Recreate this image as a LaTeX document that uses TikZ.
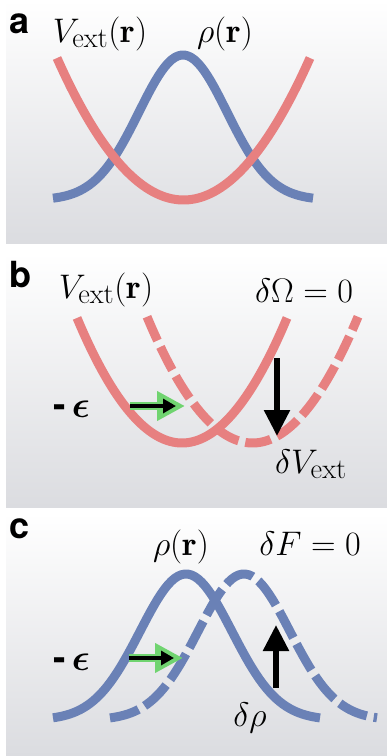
\documentclass[tikz,border=0pt]{standalone}
\usepackage{fontspec}
\usepackage{bm}
\usetikzlibrary{arrows.meta}
\newfontfamily\labfont{TeX Gyre Heros}
\definecolor{redc}{RGB}{231,128,128}
\definecolor{bluec}{RGB}{106,129,182}
\definecolor{greenc}{RGB}{112,212,112}
\definecolor{panelgray}{RGB}{219,220,224}
\tikzset{
  panel/.style={top color=white, bottom color=panelgray, draw=none},
  curve/.style={line width=9pt, line cap=butt},
  dashcurve/.style={curve, dash pattern=on 26pt off 7pt},
  panellabel/.style={anchor=base west, inner sep=0pt, font=\labfont\bfseries\fontsize{36}{40}\selectfont},
  mathlabel/.style={anchor=base, inner sep=0pt, font=\Huge, scale=1.37},
  epslabel/.style={anchor=base west, inner sep=0pt, font=\Huge, scale=1.5},
  bigarrow/.style={line width=5.5pt, -{Triangle[width=25pt,length=26pt]}},
  greenarrow/.style={greenc, line width=8pt, -{Triangle[width=28pt,length=28pt]}},
  innerarrow/.style={black, line width=3.5pt, -{Triangle[width=14pt,length=13pt]}}
}
\begin{document}
\begin{tikzpicture}[x=1pt,y=-1pt]
\useasboundingbox (0,0) rectangle (387,756);
% panels
\shade[panel] (6,0) rectangle (387,243);
\shade[panel] (6,253) rectangle (387,507);
\shade[panel] (6,513) rectangle (387,756);

% ---------- panel a ----------
\node[panellabel] (la) at (9,33) {a};
\draw[curve, bluec] plot[domain=53:313, samples=80] (\x, {200 - 145*exp(-0.5*((\x-183)/44)^2)});
\draw[curve, redc] plot[domain=57:310, samples=80] (\x, {200 - (0.0942*(\x-183.5))^2});
\node[mathlabel] (va) at (100,42) {$V_{\mathrm{ext}}(\mathbf{r})$};
\node[mathlabel] (ra) at (225,42) {$\rho(\mathbf{r})$};

% ---------- panel b ----------
\node[panellabel] (lb) at (9,287) {b};
\draw[dashcurve, redc] plot[domain=147:358, samples=80] (\x, {443 - (0.1065*(\x-252.5))^2});
\draw[curve, redc] plot[domain=77:287, samples=80] (\x, {443 - (0.1065*(\x-182))^2});
\node[mathlabel] (vb) at (106,298) {$V_{\mathrm{ext}}(\mathbf{r})$};
\node[mathlabel] (ob) at (304,302) {$\delta\Omega=0$};
\node[mathlabel] (dvb) at (311,473) {$\delta V_{\mathrm{ext}}$};
\node[epslabel] (eb) at (53,417) {{\labfont\bfseries -}\,$\bm{\epsilon}$};
\coordinate (gbs) at (130,406);
\coordinate (gbe) at (185,406);
\coordinate (kbs) at (130,406);
\coordinate (kbe) at (176,406);
\draw[greenarrow] (gbs) -- (gbe);
\draw[innerarrow] (kbs) -- (kbe);
\coordinate (dbs) at (277,358);
\coordinate (dbe) at (277,436);
\draw[bigarrow] (dbs) -- (dbe);

% ---------- panel c ----------
\node[panellabel] (lc) at (9,538) {c};
\draw[dashcurve, bluec, dash pattern=on 30pt off 7pt] plot[domain=110:377, samples=80] (\x, {720 - 146*exp(-0.5*((\x-244)/46)^2)});
\draw[curve, bluec] plot[domain=53:320, samples=80] (\x, {720 - 146*exp(-0.5*((\x-186)/46)^2)});
\node[mathlabel] (rc) at (181,555) {$\rho(\mathbf{r})$};
\node[mathlabel] (fc) at (310,555) {$\delta F=0$};
\node[mathlabel] (drc) at (250,726) {$\delta\rho$};
\node[epslabel] (ec) at (53,670) {{\labfont\bfseries -}\,$\bm{\epsilon}$};
\coordinate (gcs) at (129,658);
\coordinate (gce) at (183,658);
\coordinate (kcs) at (129,658);
\coordinate (kce) at (174,658);
\draw[greenarrow] (gcs) -- (gce);
\draw[innerarrow] (kcs) -- (kce);
\coordinate (ucs) at (276,688);
\coordinate (uce) at (276,625);
\draw[bigarrow] (ucs) -- (uce);
\end{tikzpicture}
\end{document}
